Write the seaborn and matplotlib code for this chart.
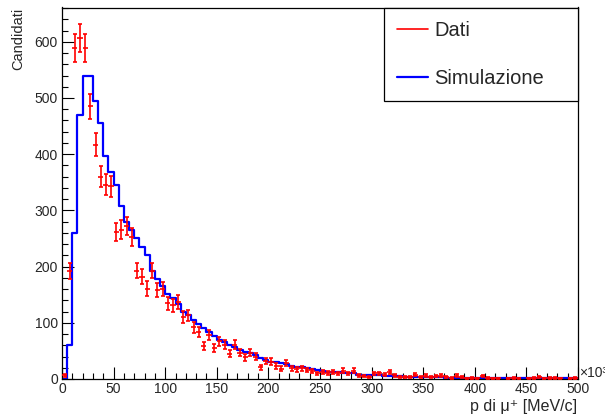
import numpy as np
import pandas as pd
import matplotlib
matplotlib.use("Agg")
import matplotlib.pyplot as plt
import seaborn as sns
from matplotlib.ticker import MultipleLocator
from matplotlib.lines import Line2D

# ---- data -------------------------------------------------------------
bin_lo, bin_hi, bin_w = 0, 500, 5

data_counts = [7, 192, 589, 607, 589, 485, 417, 360, 346, 343,
               262, 266, 272, 253, 193, 182, 161, 193, 158, 160,
               135, 131, 137, 111, 113, 92, 83, 59, 79, 55,
               67, 61, 45, 61, 47, 39, 47, 40, 21, 32,
               31, 23, 18, 29, 19, 17, 19, 16, 14, 10,
               13, 11, 13, 10, 15, 10, 15, 7, 5, 4,
               10, 10, 8, 12, 7, 4, 3, 4, 8, 4,
               6, 3, 5, 6, 4, 2, 6, 3, 1, 2,
               1, 5, 2, 1, 1, 0, 1, 2, 1, 0,
               1, 2, 3, 1, 2, 2, 1, 0, 1, 2]

sim_counts = [0, 60, 260, 470, 540, 540, 495, 455, 397, 369,
              346, 308, 280, 265, 251, 234, 220, 193, 178, 165,
              152, 145, 134, 120, 114, 105, 97, 90, 83, 76,
              69, 65, 61, 57, 52, 48, 46, 42, 38, 34,
              31, 30, 28, 26, 23, 22, 21, 20, 17, 16,
              14, 13, 12, 12, 11, 10, 10, 8, 8, 7,
              7, 7, 6, 5, 5, 5, 4, 4, 4, 4,
              3, 3, 3, 3, 2, 1, 1, 1, 1, 1,
              1, 1, 1, 1, 1, 1, 1, 1, 1, 1,
              1, 1, 1, 1, 1, 1, 1, 1, 1, 1]

x_ticks = [0, 50, 100, 150, 200, 250, 300, 350, 400, 450, 500]
y_ticks = [0, 100, 200, 300, 400, 500, 600]
x_label = "p di \u03bc\u207a [MeV/c]"
y_label = "Candidati"
legend_labels = ["Dati", "Simulazione"]

edges = np.arange(bin_lo, bin_hi + bin_w, bin_w)
centers = edges[:-1] + bin_w / 2
df_sim = pd.DataFrame({"p": centers, "n": np.asarray(sim_counts, dtype=float)})
df_dat = pd.DataFrame({"p": centers, "n": np.asarray(data_counts, dtype=float)})
df_dat["err"] = np.sqrt(df_dat["n"])
df_dat = df_dat[df_dat["n"] > 0]

# ---- style ------------------------------------------------------------
sns.set_style("white")
plt.rcParams["font.family"] = ["Liberation Sans", "DejaVu Sans"]

fig = plt.figure(figsize=(6.05, 4.16), dpi=100)
ax = fig.add_axes([62 / 605, 1 - 379 / 416, (578 - 62) / 605, (379 - 7.5) / 416])

sns.histplot(data=df_sim, x="p", weights="n", binwidth=bin_w,
             binrange=(bin_lo, bin_hi), element="step",
             fill=False, color="#0000ff", linewidth=1.6, ax=ax)

ax.errorbar(df_dat["p"], df_dat["n"], yerr=df_dat["err"], fmt="none",
            ecolor="#ff0000", elinewidth=1.2, capsize=1.6, capthick=1.2, zorder=3)
ax.errorbar(df_dat["p"], df_dat["n"], xerr=bin_w / 2, fmt="none",
            ecolor="#ff0000", elinewidth=1.2, capsize=0, zorder=3)

ax.set_xlim(bin_lo, bin_hi)
ax.set_ylim(0, 661)
ax.set_xticks(x_ticks)
ax.set_yticks(y_ticks)
ax.xaxis.set_minor_locator(MultipleLocator(10))
ax.yaxis.set_minor_locator(MultipleLocator(20))
ax.tick_params(which="both", bottom=True, left=True, top=False, right=False)
ax.tick_params(which="major", direction="in", length=8.5, width=0.8,
               labelsize=10, color="black")
ax.tick_params(which="minor", direction="in", length=4.3, width=0.8, color="black")
ax.tick_params(axis="x", which="major", pad=2.5)
ax.tick_params(axis="y", which="major", pad=3)
for s in ax.spines.values():
    s.set_color("black")
    s.set_linewidth(0.9)

ax.set_xlabel("")
ax.set_ylabel("")
fig.text(577 / 605, 1 - 406 / 416, x_label, ha="right", va="center", fontsize=11.5)
fig.text(18 / 605, 1 - 8 / 416, y_label, ha="center", va="top", rotation=90, fontsize=10.5)
fig.text(579 / 605, 1 - 373 / 416, "\u00d710\u00b3", ha="left", va="center", fontsize=10)

handles = [Line2D([], [], color="#ff0000", lw=1.2),
           Line2D([], [], color="#0000ff", lw=1.6)]
x0 = (384 - 62) / (578 - 62)
leg = ax.legend(handles, legend_labels, loc="upper left",
                bbox_to_anchor=(x0, 0, 1 - x0, 1), mode="expand",
                borderaxespad=0, frameon=True, fancybox=False,
                edgecolor="black", framealpha=1, fontsize=14.5,
                handlelength=1.55, handletextpad=0.3, borderpad=0.65,
                handleheight=0.7, labelspacing=1.45)
leg.get_frame().set_linewidth(0.9)

fig.savefig("out.png", dpi=100, facecolor="white")
